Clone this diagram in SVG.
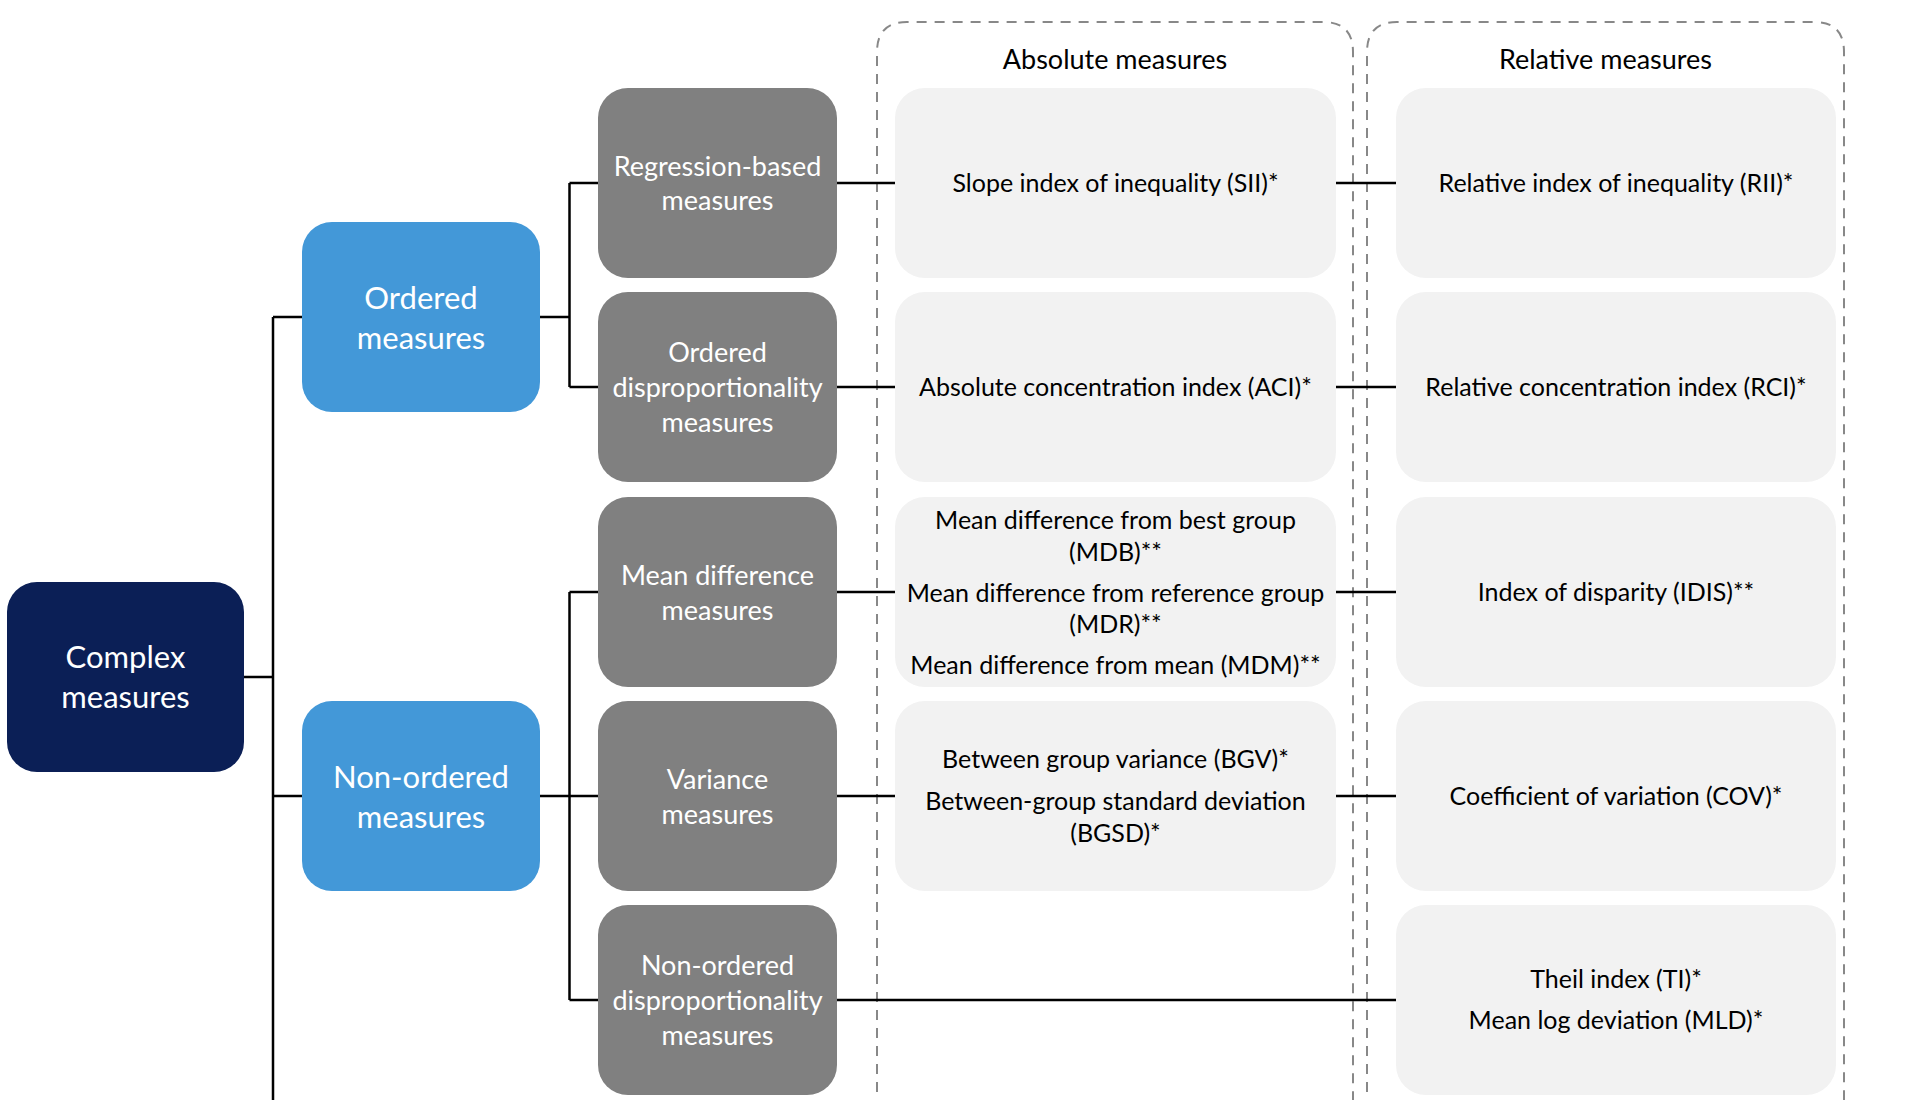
<svg xmlns="http://www.w3.org/2000/svg" width="1908" height="1100" viewBox="0 0 1908 1100">
<style>
text{font-family:Lato,"Liberation Sans",sans-serif;text-anchor:middle}
.navy{fill:#0B1F56}
.blue{fill:#4398D8}
.grey{fill:#808080}
.light{fill:#F2F2F2}
.wb{fill:#fff;font-size:31px}
.wg{fill:#fff;font-size:27px}
.bk{fill:#000;font-size:25px}
.hd{fill:#000;font-size:27px}
.dash{fill:none;stroke:#888;stroke-width:2;stroke-dasharray:10 8}
.conn{fill:none;stroke:#000;stroke-width:2.5}
</style>
<g id="containers">
<path class="dash" d="M877,1110 V52 Q877,22 907,22 H1323 Q1353,22 1353,52 V1110"/>
<path class="dash" d="M1367,1110 V52 Q1367,22 1397,22 H1814 Q1844,22 1844,52 V1110"/>
<text class="hd" x="1115" y="69">Absolute measures</text>
<text class="hd" x="1605.5" y="69">Relative measures</text>
</g>
<g id="connectors">
<path class="conn" d="M244,677 H273 M273,317 V1100 M273,317 H302 M273,796 H302"/>
<path class="conn" d="M540,317 H569.5 M569.5,183 V387 M569.5,183 H598 M569.5,387 H598"/>
<path class="conn" d="M540,796 H569.5 M569.5,592 V1000 M569.5,592 H598 M569.5,796 H598 M569.5,1000 H598"/>
<path class="conn" d="M837,183 H895 M837,387 H895 M837,592 H895 M837,796 H895"/>
<path class="conn" d="M1336,183 H1396 M1336,387 H1396 M1336,592 H1396 M1336,796 H1396"/>
<path class="conn" d="M837,1000 H1396"/>
</g>
<g id="complex">
<rect class="navy" x="7" y="582" width="237" height="190" rx="30"/>
<text class="wb" x="125.5" y="668">Complex</text>
<text class="wb" x="125.5" y="708">measures</text>
</g>
<g id="ordered">
<rect class="blue" x="302" y="222" width="238" height="190" rx="30"/>
<text class="wb" x="421" y="309">Ordered</text>
<text class="wb" x="421" y="349">measures</text>
</g>
<g id="nonordered">
<rect class="blue" x="302" y="701" width="238" height="190" rx="30"/>
<text class="wb" x="421" y="788">Non-ordered</text>
<text class="wb" x="421" y="828">measures</text>
</g>
<g id="regression">
<rect class="grey" x="598" y="88" width="239" height="190" rx="30"/>
<text class="wg" x="717.5" y="176">Regression-based</text>
<text class="wg" x="717.5" y="210">measures</text>
</g>
<g id="ordered-disp">
<rect class="grey" x="598" y="292" width="239" height="190" rx="30"/>
<text class="wg" x="717.5" y="362">Ordered</text>
<text class="wg" x="717.5" y="397">disproportionality</text>
<text class="wg" x="717.5" y="432">measures</text>
</g>
<g id="meandiff">
<rect class="grey" x="598" y="497" width="239" height="190" rx="30"/>
<text class="wg" x="717.5" y="585">Mean difference</text>
<text class="wg" x="717.5" y="620">measures</text>
</g>
<g id="variance">
<rect class="grey" x="598" y="701" width="239" height="190" rx="30"/>
<text class="wg" x="717.5" y="789">Variance</text>
<text class="wg" x="717.5" y="824">measures</text>
</g>
<g id="nonordered-disp">
<rect class="grey" x="598" y="905" width="239" height="190" rx="30"/>
<text class="wg" x="717.5" y="975">Non-ordered</text>
<text class="wg" x="717.5" y="1010">disproportionality</text>
<text class="wg" x="717.5" y="1045">measures</text>
</g>
<g id="sii">
<rect class="light" x="895" y="88" width="441" height="190" rx="30"/>
<text class="bk" x="1115.5" y="191.5">Slope index of inequality (SII)*</text>
</g>
<g id="aci">
<rect class="light" x="895" y="292" width="441" height="190" rx="30"/>
<text class="bk" x="1115.5" y="395.5">Absolute concentration index (ACI)*</text>
</g>
<g id="md">
<rect class="light" x="895" y="497" width="441" height="190" rx="30"/>
<text class="bk" x="1115.5" y="529">Mean difference from best group</text>
<text class="bk" x="1115.5" y="561">(MDB)**</text>
<text class="bk" x="1115.5" y="602">Mean difference from reference group</text>
<text class="bk" x="1115.5" y="633">(MDR)**</text>
<text class="bk" x="1115.5" y="674">Mean difference from mean (MDM)**</text>
</g>
<g id="bgv">
<rect class="light" x="895" y="701" width="441" height="190" rx="30"/>
<text class="bk" x="1115.5" y="768">Between group variance (BGV)*</text>
<text class="bk" x="1115.5" y="810">Between-group standard deviation</text>
<text class="bk" x="1115.5" y="842">(BGSD)*</text>
</g>
<g id="rii">
<rect class="light" x="1396" y="88" width="440" height="190" rx="30"/>
<text class="bk" x="1616" y="191.5">Relative index of inequality (RII)*</text>
</g>
<g id="rci">
<rect class="light" x="1396" y="292" width="440" height="190" rx="30"/>
<text class="bk" x="1616" y="395.5">Relative concentration index (RCI)*</text>
</g>
<g id="idis">
<rect class="light" x="1396" y="497" width="440" height="190" rx="30"/>
<text class="bk" x="1616" y="600.5">Index of disparity (IDIS)**</text>
</g>
<g id="cov">
<rect class="light" x="1396" y="701" width="440" height="190" rx="30"/>
<text class="bk" x="1616" y="804.5">Coefficient of variation (COV)*</text>
</g>
<g id="theil">
<rect class="light" x="1396" y="905" width="440" height="190" rx="30"/>
<text class="bk" x="1616" y="988">Theil index (TI)*</text>
<text class="bk" x="1616" y="1029">Mean log deviation (MLD)*</text>
</g>
</svg>
